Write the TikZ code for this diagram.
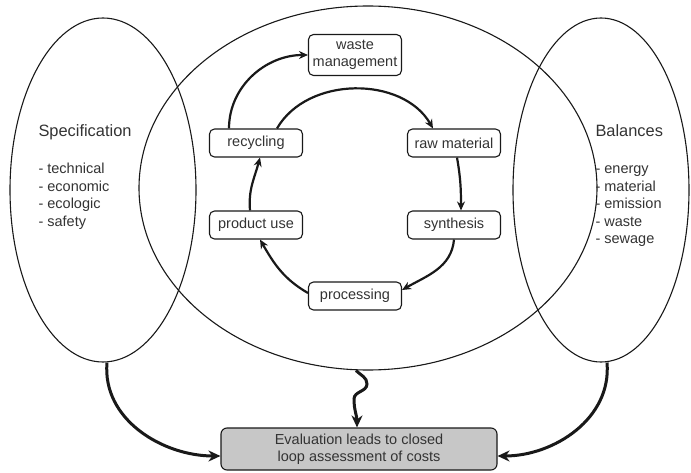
\documentclass[tikz,border=0pt]{standalone}
\usepackage{fontspec}
\setmainfont{Liberation Sans}
\usetikzlibrary{arrows.meta,shapes.geometric}

\tikzset{
  ring/.style={draw=black!90, ellipse, line width=1.1pt, inner sep=0pt},
  stage/.style={draw=black!90, rounded corners=5pt, line width=1.1pt, minimum width=93pt, minimum height=28pt, inner sep=1pt, align=center, text=black!80, font=\fontsize{14.5}{17.5}\selectfont},
  flow/.style={line width=2.2pt, black!90, -{Stealth[length=9pt,width=8pt]}},
  feed/.style={line width=3pt, black!90, -{Stealth[length=12pt,width=11pt]}},
  headline/.style={anchor=base west, text=black!80, font=\fontsize{16.4}{20}\selectfont},
  listitem/.style={anchor=base west, text=black!80, font=\fontsize{14.5}{17.5}\selectfont}
}

\begin{document}
\begin{tikzpicture}[x=1pt,y=1pt]
  \useasboundingbox (0,0) rectangle (691,472);

  % Drie ellipsen
  \node[ring, minimum width=186pt, minimum height=344pt] (spec) at (103,282) {};
  \node[ring, minimum width=458pt, minimum height=364pt] (life) at (368,284) {};
  \node[ring, minimum width=176pt, minimum height=344pt] (bal) at (601,282) {};

  % Specificatie (links)
  \node[headline] (spectitle) at (35,335) {Specification};
  \node[listitem] (tech) at (35,298) {- technical};
  \node[listitem] (econ) at (35,280.6) {- economic};
  \node[listitem] (ecol) at (35,263.2) {- ecologic};
  \node[listitem] (safe) at (35,245.8) {- safety};

  % Balansen (rechts)
  \node[headline] (baltitle) at (592,335) {Balances};
  \node[listitem] (energy) at (592,298) {- energy};
  \node[listitem] (mater) at (592,280.6) {- material};
  \node[listitem] (emis) at (592,263.2) {- emission};
  \node[listitem] (wst) at (592,245.8) {- waste};
  \node[listitem] (sewage) at (592,228.4) {- sewage};

  % Stappen van de kringloop
  \node[stage, minimum height=41pt] (waste) at (355,417) {waste\\management};
  \node[stage] (recyc) at (256,329) {recycling};
  \node[stage] (raw) at (454,329) {raw material};
  \node[stage] (use) at (256,247) {product use};
  \node[stage] (synth) at (454,247) {synthesis};
  \node[stage] (proc) at (355,176) {processing};

  % Evaluatie
  \node[stage, fill=black!22, minimum width=276pt, minimum height=42pt, rounded corners=6pt] (eval) at (359,23) {Evaluation leads to closed\\loop assessment of costs};

  % Kringloop
  \draw[flow] ([xshift=-27pt]recyc.north) to[out=90,in=180] (waste.west);
  \draw[flow] ([xshift=21pt]recyc.north) to[out=60,in=120] ([xshift=-21pt]raw.north);
  \draw[flow] ([xshift=3pt]raw.south) to[out=-80,in=90] ([xshift=7pt]synth.north);
  \draw[flow] (synth.south) to[out=-95,in=30] ([yshift=6pt]proc.east);
  \draw[flow] ([yshift=3pt]proc.west) to[out=150,in=-60] ([xshift=4pt]use.south);
  \draw[flow] ([xshift=-6pt]use.north) to[out=95,in=-105] ([xshift=4pt]recyc.south);

  % Naar de evaluatie
  \coordinate (w1) at (367,88);
  \coordinate (w2) at (354,73);
  \draw[feed] ([xshift=4pt]spec.south) to[out=-95,in=180] ([yshift=-7pt]eval.west);
  \draw[feed] ([xshift=6pt]bal.south) to[out=-85,in=0] ([yshift=-7pt]eval.east);
  \draw[feed] ([xshift=-12pt]life.south) to[out=-45,in=90] (w1) to[out=-90,in=90] (w2) to[out=-90,in=90] ([xshift=-2pt]eval.north);
\end{tikzpicture}
\end{document}
